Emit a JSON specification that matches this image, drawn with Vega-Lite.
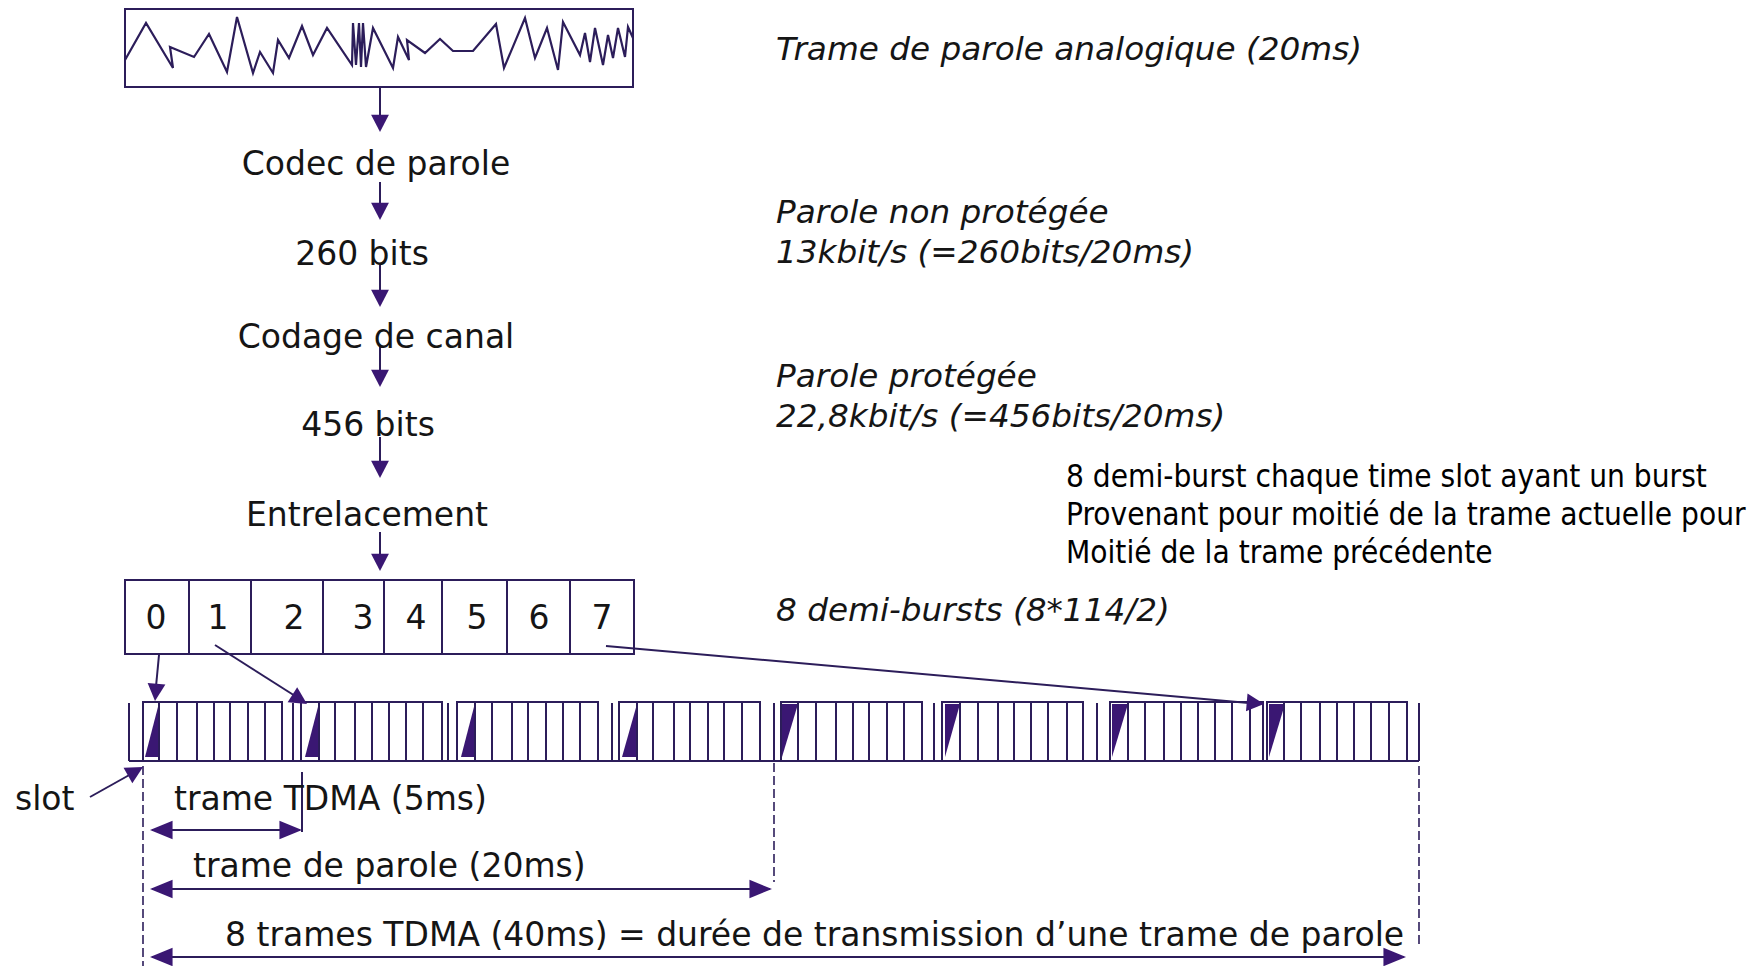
{
  "$schema": "https://vega.github.io/schema/vega-lite/v6.json",
  "width": 1764,
  "height": 966,
  "autosize": {"type": "none"},
  "padding": 0,
  "background": "white",
  "config": {"view": {"stroke": null}},
  "datasets": {
    "wave": [
      {"i":0,"x":125,"y":60},{"i":1,"x":146,"y":23},{"i":2,"x":173,"y":68},{"i":3,"x":170,"y":47},
      {"i":4,"x":194,"y":57},{"i":5,"x":209,"y":34},{"i":6,"x":227,"y":72},{"i":7,"x":237,"y":17},
      {"i":8,"x":253,"y":73},{"i":9,"x":260,"y":52},{"i":10,"x":273,"y":73},{"i":11,"x":278,"y":40},
      {"i":12,"x":289,"y":58},{"i":13,"x":302,"y":26},{"i":14,"x":313,"y":55},{"i":15,"x":327,"y":28},
      {"i":16,"x":352,"y":65},{"i":17,"x":353,"y":23},{"i":18,"x":356,"y":65},{"i":19,"x":359,"y":23},
      {"i":20,"x":361,"y":67},{"i":21,"x":363,"y":23},{"i":22,"x":366,"y":67},{"i":23,"x":373,"y":28},
      {"i":24,"x":393,"y":68},{"i":25,"x":398,"y":37},{"i":26,"x":409,"y":60},{"i":27,"x":407,"y":40},
      {"i":28,"x":425,"y":53},{"i":29,"x":440,"y":39},{"i":30,"x":453,"y":51},{"i":31,"x":473,"y":51},
      {"i":32,"x":496,"y":24},{"i":33,"x":504,"y":68},{"i":34,"x":525,"y":18},{"i":35,"x":535,"y":58},
      {"i":36,"x":547,"y":28},{"i":37,"x":558,"y":70},{"i":38,"x":563,"y":22},{"i":39,"x":580,"y":55},
      {"i":40,"x":585,"y":33},{"i":41,"x":590,"y":62},{"i":42,"x":595,"y":28},{"i":43,"x":603,"y":65},
      {"i":44,"x":608,"y":35},{"i":45,"x":613,"y":58},{"i":46,"x":618,"y":28},{"i":47,"x":625,"y":57},
      {"i":48,"x":628,"y":27},{"i":49,"x":633,"y":38}
    ],
    "boxes": [
      {"x":125,"x2":633,"y":9,"y2":87},
      {"x":125,"x2":189,"y":580,"y2":654},{"x":189,"x2":251,"y":580,"y2":654},
      {"x":251,"x2":323,"y":580,"y2":654},{"x":323,"x2":384,"y":580,"y2":654},
      {"x":384,"x2":442,"y":580,"y2":654},{"x":442,"x2":507,"y":580,"y2":654},
      {"x":507,"x2":570,"y":580,"y2":654},{"x":570,"x2":634,"y":580,"y2":654},
      {"x":143,"x2":282,"y":702,"y2":761},{"x":301,"x2":442,"y":702,"y2":761},
      {"x":457,"x2":598,"y":702,"y2":761},{"x":619,"x2":760,"y":702,"y2":761},
      {"x":781,"x2":922,"y":702,"y2":761},{"x":942,"x2":1083,"y":702,"y2":761},
      {"x":1110,"x2":1263,"y":702,"y2":761},{"x":1267,"x2":1407,"y":702,"y2":761}
    ],
    "segments": [
      {"x":380,"y":87,"x2":380,"y2":128},{"x":380,"y":182,"x2":380,"y2":215},
      {"x":380,"y":265,"x2":380,"y2":302},{"x":380,"y":345,"x2":380,"y2":382},
      {"x":380,"y":437,"x2":380,"y2":473},{"x":380,"y":532,"x2":380,"y2":566},
      {"x":159,"y":655,"x2":155,"y2":697},{"x":215,"y":645,"x2":303,"y2":701},
      {"x":606,"y":646,"x2":1260,"y2":704},{"x":90,"y":797,"x2":140,"y2":769},
      {"x":152,"y":830,"x2":300,"y2":830},{"x":152,"y":889,"x2":770,"y2":889},
      {"x":152,"y":957,"x2":1404,"y2":957},{"x":302,"y":772,"x2":302,"y2":832},
      {"x":129,"y":761,"x2":1419,"y2":761},
      {"x":129,"y":703,"x2":129,"y2":761},{"x":293,"y":703,"x2":293,"y2":761},
      {"x":448,"y":703,"x2":448,"y2":761},{"x":612,"y":703,"x2":612,"y2":761},
      {"x":774,"y":703,"x2":774,"y2":761},{"x":934,"y":703,"x2":934,"y2":761},
      {"x":1097,"y":703,"x2":1097,"y2":761},{"x":1419,"y":703,"x2":1419,"y2":761},
      {"x":159,"y":702,"x2":159,"y2":761},{"x":177,"y":702,"x2":177,"y2":761},
      {"x":197,"y":702,"x2":197,"y2":761},{"x":214,"y":702,"x2":214,"y2":761},
      {"x":230,"y":702,"x2":230,"y2":761},{"x":248,"y":702,"x2":248,"y2":761},
      {"x":265,"y":702,"x2":265,"y2":761},
      {"x":319,"y":702,"x2":319,"y2":761},{"x":335,"y":702,"x2":335,"y2":761},
      {"x":355,"y":702,"x2":355,"y2":761},{"x":372,"y":702,"x2":372,"y2":761},
      {"x":389,"y":702,"x2":389,"y2":761},{"x":406,"y":702,"x2":406,"y2":761},
      {"x":423,"y":702,"x2":423,"y2":761},
      {"x":475,"y":702,"x2":475,"y2":761},{"x":492,"y":702,"x2":492,"y2":761},
      {"x":512,"y":702,"x2":512,"y2":761},{"x":528,"y":702,"x2":528,"y2":761},
      {"x":546,"y":702,"x2":546,"y2":761},{"x":563,"y":702,"x2":563,"y2":761},
      {"x":580,"y":702,"x2":580,"y2":761},
      {"x":637,"y":702,"x2":637,"y2":761},{"x":653,"y":702,"x2":653,"y2":761},
      {"x":674,"y":702,"x2":674,"y2":761},{"x":690,"y":702,"x2":690,"y2":761},
      {"x":708,"y":702,"x2":708,"y2":761},{"x":724,"y":702,"x2":724,"y2":761},
      {"x":742,"y":702,"x2":742,"y2":761},
      {"x":798,"y":702,"x2":798,"y2":761},{"x":816,"y":702,"x2":816,"y2":761},
      {"x":836,"y":702,"x2":836,"y2":761},{"x":853,"y":702,"x2":853,"y2":761},
      {"x":869,"y":702,"x2":869,"y2":761},{"x":887,"y":702,"x2":887,"y2":761},
      {"x":904,"y":702,"x2":904,"y2":761},
      {"x":960,"y":702,"x2":960,"y2":761},{"x":978,"y":702,"x2":978,"y2":761},
      {"x":998,"y":702,"x2":998,"y2":761},{"x":1014,"y":702,"x2":1014,"y2":761},
      {"x":1031,"y":702,"x2":1031,"y2":761},{"x":1048,"y":702,"x2":1048,"y2":761},
      {"x":1067,"y":702,"x2":1067,"y2":761},
      {"x":1128,"y":702,"x2":1128,"y2":761},{"x":1145,"y":702,"x2":1145,"y2":761},
      {"x":1164,"y":702,"x2":1164,"y2":761},{"x":1181,"y":702,"x2":1181,"y2":761},
      {"x":1198,"y":702,"x2":1198,"y2":761},{"x":1215,"y":702,"x2":1215,"y2":761},
      {"x":1232,"y":702,"x2":1232,"y2":761},{"x":1250,"y":702,"x2":1250,"y2":761},
      {"x":1284,"y":702,"x2":1284,"y2":761},{"x":1301,"y":702,"x2":1301,"y2":761},
      {"x":1320,"y":702,"x2":1320,"y2":761},{"x":1337,"y":702,"x2":1337,"y2":761},
      {"x":1354,"y":702,"x2":1354,"y2":761},{"x":1371,"y":702,"x2":1371,"y2":761},
      {"x":1389,"y":702,"x2":1389,"y2":761}
    ],
    "dashed": [
      {"x":143,"y":766,"x2":143,"y2":966},
      {"x":774,"y":763,"x2":774,"y2":882},
      {"x":1419,"y":766,"x2":1419,"y2":945}
    ],
    "bursts": [
      {"frame":"F1","x":145,"y":757,"y2":757},{"frame":"F1","x":159,"y":703,"y2":757},
      {"frame":"F2","x":305,"y":757,"y2":757},{"frame":"F2","x":319,"y":703,"y2":757},
      {"frame":"F3","x":461,"y":757,"y2":757},{"frame":"F3","x":475,"y":703,"y2":757},
      {"frame":"F4","x":622,"y":757,"y2":757},{"frame":"F4","x":637,"y":704,"y2":757},
      {"frame":"F5","x":782,"y":704,"y2":757},{"frame":"F5","x":798,"y":704,"y2":704},
      {"frame":"F6","x":945,"y":704,"y2":757},{"frame":"F6","x":960,"y":704,"y2":704},
      {"frame":"F7","x":1112,"y":704,"y2":757},{"frame":"F7","x":1128,"y":704,"y2":704},
      {"frame":"F8","x":1269,"y":704,"y2":757},{"frame":"F8","x":1285,"y":704,"y2":704}
    ],
    "headsV": [
      {"x":380,"y":132,"angle":180},{"x":380,"y":220,"angle":180},
      {"x":380,"y":307,"angle":180},{"x":380,"y":387,"angle":180},
      {"x":380,"y":478,"angle":180},{"x":380,"y":571,"angle":180},
      {"x":155,"y":701,"angle":185},{"x":307,"y":704,"angle":122.5},
      {"x":1264,"y":704,"angle":95},{"x":143,"y":767,"angle":60.5}
    ],
    "headsH": [
      {"x":150,"y":830,"angle":270},{"x":302,"y":830,"angle":90},
      {"x":150,"y":889,"angle":270},{"x":772,"y":889,"angle":90},
      {"x":150,"y":957,"angle":270},{"x":1406,"y":957,"angle":90}
    ],
    "steps": [
      {"text":"Codec de parole","x":376,"y":165},
      {"text":"260 bits","x":362,"y":255},
      {"text":"Codage de canal","x":376,"y":338},
      {"text":"456 bits","x":368,"y":426},
      {"text":"Entrelacement","x":367,"y":516},
      {"text":"0","x":156,"y":619},{"text":"1","x":218,"y":619},
      {"text":"2","x":294,"y":619},{"text":"3","x":363,"y":619},
      {"text":"4","x":416,"y":619},{"text":"5","x":477,"y":619},
      {"text":"6","x":539,"y":619},{"text":"7","x":602,"y":619}
    ],
    "notes": [
      {"text":"Trame de parole analogique (20ms)","x":776,"y":50},
      {"text":"Parole non protégée","x":776,"y":213},
      {"text":"13kbit/s (=260bits/20ms)","x":776,"y":253},
      {"text":"Parole protégée","x":776,"y":377},
      {"text":"22,8kbit/s (=456bits/20ms)","x":776,"y":417},
      {"text":"8 demi-bursts (8*114/2)","x":776,"y":611}
    ],
    "bottom": [
      {"text":"slot","x":15,"y":800},
      {"text":"trame TDMA (5ms)","x":174,"y":800},
      {"text":"trame de parole (20ms)","x":193,"y":867},
      {"text":"8 trames TDMA (40ms) = durée de transmission d’une trame de parole","x":225,"y":936}
    ],
    "remark": [
      {"text":"8 demi-burst chaque time slot ayant un burst","x":1066,"y":478},
      {"text":"Provenant pour moitié de la trame actuelle pour","x":1066,"y":516},
      {"text":"Moitié de la trame précédente","x":1066,"y":554}
    ]
  },
  "encoding": {
    "x": {"field":"x","type":"quantitative","scale":{"domain":[0,1764],"nice":false,"zero":false},"axis":null},
    "y": {"field":"y","type":"quantitative","scale":{"domain":[0,966],"nice":false,"zero":false,"reverse":true},"axis":null}
  },
  "layer": [
    {
      "data": {"name":"bursts"},
      "mark": {"type":"area","color":"#3a1773","opacity":1,"interpolate":"linear"},
      "encoding": {
        "y": {"field":"y","type":"quantitative","stack":null,"scale":{"domain":[0,966],"nice":false,"zero":false,"reverse":true},"axis":null},
        "y2": {"field":"y2"},
        "detail": {"field":"frame","type":"nominal"}
      }
    },
    {
      "data": {"name":"boxes"},
      "mark": {"type":"rect","filled":false,"stroke":"#2c1d5a","strokeWidth":2},
      "encoding": {"x2":{"field":"x2"},"y2":{"field":"y2"}}
    },
    {
      "data": {"name":"segments"},
      "mark": {"type":"rule","color":"#2c1d5a","strokeWidth":2},
      "encoding": {"x2":{"field":"x2"},"y2":{"field":"y2"}}
    },
    {
      "data": {"name":"dashed"},
      "mark": {"type":"rule","color":"#2c1d5a","strokeWidth":1.6,"strokeDash":[9,4]},
      "encoding": {"x2":{"field":"x2"},"y2":{"field":"y2"}}
    },
    {
      "data": {"name":"wave"},
      "mark": {"type":"line","color":"#2c1d5a","strokeWidth":2.2},
      "encoding": {"order":{"field":"i","type":"quantitative"}}
    },
    {
      "data": {"name":"headsV"},
      "mark": {"type":"point","filled":true,"opacity":1,"color":"#3a1773","size":440,"shape":"M0,0L-0.85,1.65L0.85,1.65Z"},
      "encoding": {"angle":{"field":"angle","type":"quantitative","scale":null}}
    },
    {
      "data": {"name":"headsH"},
      "mark": {"type":"point","filled":true,"opacity":1,"color":"#3a1773","size":420,"shape":"M0,0L-0.9,2.2L0.9,2.2Z"},
      "encoding": {"angle":{"field":"angle","type":"quantitative","scale":null}}
    },
    {
      "data": {"name":"steps"},
      "mark": {"type":"text","font":"DejaVu Sans","fontSize":33,"align":"center","baseline":"middle","color":"#151515"},
      "encoding": {"text":{"field":"text"}}
    },
    {
      "data": {"name":"notes"},
      "mark": {"type":"text","font":"DejaVu Sans","fontSize":32.7,"fontStyle":"italic","align":"left","baseline":"middle","color":"#151515"},
      "encoding": {"text":{"field":"text"}}
    },
    {
      "data": {"name":"bottom"},
      "mark": {"type":"text","font":"DejaVu Sans","fontSize":33,"align":"left","baseline":"middle","color":"#151515"},
      "encoding": {"text":{"field":"text"}}
    },
    {
      "data": {"name":"remark"},
      "mark": {"type":"text","font":"DejaVu Sans Condensed, DejaVu Sans","fontSize":31.3,"align":"left","baseline":"middle","color":"#000000"},
      "encoding": {"text":{"field":"text"}}
    }
  ]
}
